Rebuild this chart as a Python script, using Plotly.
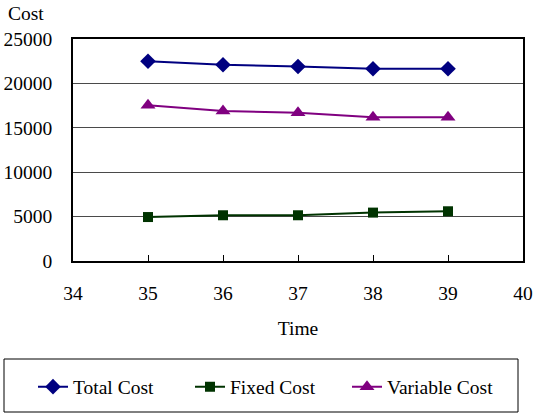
import plotly.graph_objects as go

# Cost series over time periods 35-39
time = [35, 36, 37, 38, 39]
total_cost = [22500, 22100, 21900, 21650, 21650]
fixed_cost = [4950, 5150, 5150, 5450, 5600]
variable_cost = [17550, 16900, 16700, 16200, 16200]

x_ticks = [34, 35, 36, 37, 38, 39, 40]
y_ticks = [0, 5000, 10000, 15000, 20000, 25000]

FONT = "Liberation Serif"
FS = 19.5

# Plot-area geometry in pixels (used to place paper-referenced items)
W, H = 534, 413
L, R, T, B = 73, 11, 39, 152
PW, PH = W - L - R, H - T - B


def px_x(px):
    return (px - L) / PW


def px_y(py):
    return (H - B - py) / PH


txt = dict(family=FONT, size=FS, color="black")

fig = go.Figure()
fig.add_trace(go.Scatter(
    x=time, y=total_cost, name="Total Cost", mode="lines+markers",
    line=dict(color="#000080", width=2),
    marker=dict(symbol="diamond", size=12, color="#000080"),
))
fig.add_trace(go.Scatter(
    x=time, y=fixed_cost, name="Fixed Cost", mode="lines+markers",
    line=dict(color="#003300", width=2),
    marker=dict(symbol="square", size=10, color="#003300"),
))
fig.add_trace(go.Scatter(
    x=time, y=variable_cost, name="Variable Cost", mode="lines+markers",
    line=dict(color="#800080", width=2),
    marker=dict(symbol="triangle-up", size=13, color="#800080"),
))

fig.update_layout(
    width=W, height=H,
    margin=dict(l=L, r=R, t=T, b=B, pad=0, autoexpand=False),
    paper_bgcolor="white", plot_bgcolor="white",
    font=txt,
    showlegend=True,
    legend=dict(
        orientation="h", xref="paper", yref="paper",
        x=px_x(33), y=px_y(387), xanchor="left", yanchor="middle",
        entrywidth=112, entrywidthmode="pixels",
        font=txt,
        borderwidth=0, bgcolor="rgba(0,0,0,0)",
        tracegroupgap=0, itemsizing="trace",
    ),
    xaxis=dict(
        range=[34, 40], tickvals=x_ticks, ticktext=[str(v) for v in x_ticks],
        showgrid=False, zeroline=False,
        showline=True, linecolor="black", linewidth=1.5, mirror=True,
        ticks="inside", ticklen=6, tickcolor="black", tickwidth=1,
        ticklabelstandoff=14,
        tickfont=txt,
        title=dict(text="Time", font=txt, standoff=18),
    ),
    yaxis=dict(
        range=[0, 25000], tickvals=y_ticks, ticktext=[str(v) for v in y_ticks],
        showgrid=True, gridcolor="#4a4a4a", gridwidth=1.3, zeroline=False,
        showline=True, linecolor="black", linewidth=1.5, mirror=True,
        ticks="", ticklabelstandoff=15,
        tickfont=txt,
    ),
    annotations=[dict(
        text="Cost", xref="paper", yref="paper", x=px_x(6), y=px_y(13),
        xanchor="left", yanchor="middle", showarrow=False,
        font=txt,
    )],
    shapes=[dict(
        type="rect", xref="paper", yref="paper",
        x0=px_x(4), x1=px_x(518), y0=px_y(359), y1=px_y(412),
        line=dict(color="black", width=1), fillcolor="rgba(0,0,0,0)", layer="above",
    )],
)

fig.write_html("out.html")
